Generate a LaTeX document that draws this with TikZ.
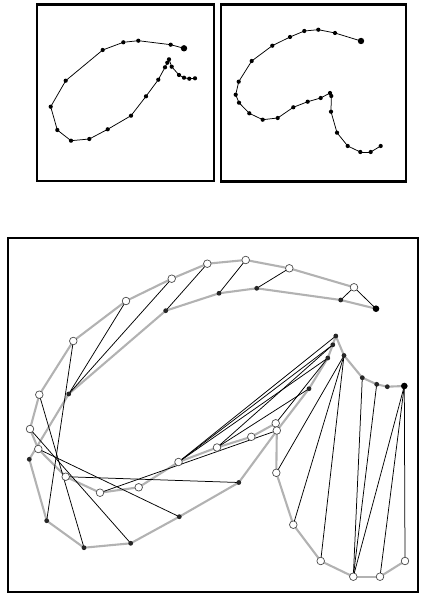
\documentclass[tikz,border=0pt]{standalone}
\usetikzlibrary{backgrounds}
\begin{document}
\begin{tikzpicture}[x=1pt,y=-1pt,
  frame/.style={draw=black,line width=2.4pt,inner sep=0pt,anchor=north west},
  pdot/.style={circle,fill=black,inner sep=0pt,minimum size=4.2pt},
  pbig/.style={circle,fill=black,inner sep=0pt,minimum size=6.4pt},
  pline/.style={draw=black,line width=0.75pt,line join=round},
  fdot/.style={circle,fill=black!85,inner sep=0pt,minimum size=4.8pt},
  fbig/.style={circle,fill=black,inner sep=0pt,minimum size=6.6pt},
  odot/.style={circle,draw=black!70,fill=white,line width=0.7pt,inner sep=0pt,minimum size=7.6pt},
  gline/.style={draw=black!30,line width=2.1pt,line join=round},
  corr/.style={draw=black,line width=0.75pt}]
\useasboundingbox (0,0) rectangle (422,601);
% frames
\node[frame,minimum width=177pt,minimum height=176.5pt] (panelA) at (35.5,3.5) {};
\node[frame,minimum width=185pt,minimum height=177pt] (panelB) at (219.5,3.5) {};
\node[frame,minimum width=410.5pt,minimum height=354pt] (panelC) at (6.5,237) {};

% ---------- panel A ----------
\foreach \n/\x/\y in {2/170.7/44.7,3/138.3/40.7,4/123.3/42.3,5/102.7/50,6/65.7/80.7,7/50.7/106.7,
  8/57.3/130,9/71/140.7,10/89.3/139,11/107.7/129.3,12/131/115.7,13/146/96.3,14/158.3/79.7,
  15/165/67.3,16/167.3/62.7,17/169/59.3,18/171.7/66.7,19/179/75,20/184/77.7,21/189.3/78.7,22/195/78.3}
  \node[pdot] (a\n) at (\x,\y) {};
\node[pbig] (a1) at (184,48.3) {};
\begin{scope}[on background layer]
\foreach \i [evaluate=\i as \j using int(\i+1)] in {1,...,21}
  \draw[pline] (a\i.center) -- (a\j.center);
\end{scope}

% ---------- panel B ----------
\foreach \n/\x/\y in {2/335/33,3/318.3/29.7,4/304.3/31,5/290/37,6/272.3/45.7,7/251.7/61,
  8/238.7/81.7,9/235.7/94.7,10/239/102.7,11/249.3/113.3,12/262.7/119.7,13/277.7/118,
  14/293.3/107.3,15/307.7/101.7,16/320.7/98,17/330/93,18/331.3/96,19/331/111.7,
  20/337/132.7,21/347.7/146,22/360.3/152,23/370.7/152,24/380.7/146}
  \node[pdot] (b\n) at (\x,\y) {};
\node[pbig] (b1) at (361,41) {};
\begin{scope}[on background layer]
\foreach \i [evaluate=\i as \j using int(\i+1)] in {1,...,23}
  \draw[pline] (b\i.center) -- (b\j.center);
\end{scope}

% ---------- panel C : open circles ----------
\foreach \n/\x/\y in {1/354/287.3,2/289.3/268.3,3/245.7/260,4/207.3/263.7,5/171.7/278.7,
  6/126/301,7/73.3/341,8/39.3/394.7,9/30/429,10/38.3/449,11/65.7/476.7,12/100/492.7,
  13/138.7/487.3,14/178.5/462,15/217/447.5,16/251.3/436.8,17/275.7/423.3,18/276.8/430.5,
  19/276.3/472.8,20/293.3/524.7,21/320.7/561,22/353.3/576.7,23/380/576.7,24/405/561}
  \node[odot] (o\n) at (\x,\y) {};
% filled dots
\foreach \n/\x/\y in {2/340.7/300,3/256.7/288.3,4/219/293.3,5/165.7/310.7,6/68.7/394,
  7/29.3/459.3,8/46.7/520.7,9/84/547.7,10/130.7/543.3,11/179.3/516.7,12/238.8/482.5,
  14/309/388.7,15/327.8/358,16/332.8/344.8,17/335.8/336,18/344/355.5,19/362.3/377.7,
  20/376.7/384.3,21/387.3/386.7}
  \node[fdot] (f\n) at (\x,\y) {};
\node[fbig] (f1) at (376,308.7) {};
\node[fbig] (f22) at (404.3,386) {};
\coordinate (f13) at (277,430.5);

\begin{scope}[on background layer]
% grey outlines
\foreach \i [evaluate=\i as \j using int(\i+1)] in {1,...,23}
  \draw[gline] (o\i.center) -- (o\j.center);
\foreach \i [evaluate=\i as \j using int(\i+1)] in {1,...,21}
  \draw[gline] (f\i.center) -- (f\j.center);
% correspondences
\foreach \p/\q in {o1/f1,o1/f2,o2/f3,o3/f4,o4/f5,o5/f6,o6/f6,o7/f8,o8/f9,o9/f10,
  o10/f11,o11/f12,o12/f13,o14/f17,o14/f16,o14/f15,o15/f16,o15/f14,o17/f15,
  o19/f18,o20/f18,o21/f18,o22/f19,o22/f20,o22/f22,o23/f22,o24/f22}
  \draw[corr] (\p.center) -- (\q.center);
\end{scope}
\end{tikzpicture}
\end{document}
